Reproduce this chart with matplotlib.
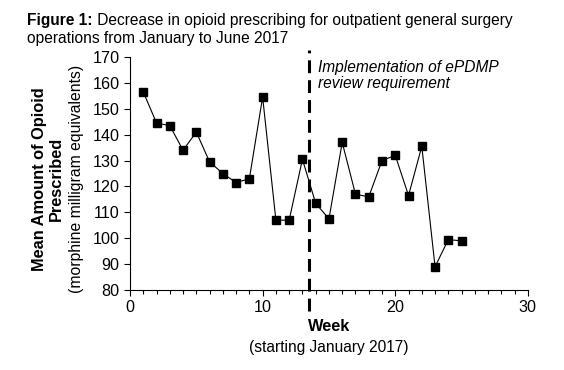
import matplotlib.pyplot as plt

plt.rcParams['font.family'] = ['Liberation Sans', 'DejaVu Sans']

# Datos
semanas = list(range(1, 26))
mme = [156.5, 144.5, 143.5, 134, 141, 129.5, 125, 121.5, 123, 154.5,
       107, 107, 130.5, 113.5, 107.5, 137, 117, 116, 130, 132,
       116.5, 135.5, 89, 99.5, 99]
semana_epdmp = 13.5

fig = plt.figure(figsize=(5.64, 3.70), dpi=100)
ax = fig.add_axes([0.2305, 0.216, 0.7055, 0.63])

ax.plot(semanas, mme, color='black', lw=0.8, marker='s', ms=6.3,
        markerfacecolor='black', markeredgecolor='black')
# Linea discontinua que sobresale un poco de los ejes
ax.axvline(semana_epdmp, ymin=-0.09, ymax=1.03, color='black', lw=2.2,
           ls=(0, (4.2, 2.3)), clip_on=False)

ax.set_xlim(0, 30)
ax.set_ylim(80, 170)
ax.set_xticks(range(0, 31, 10))
ax.set_xticks(range(0, 31), minor=True)
ax.set_yticks(range(80, 171, 10))
ax.tick_params(axis='both', labelsize=11.6, direction='out', length=4, width=0.8)
ax.tick_params(axis='x', which='minor', length=3, width=0.8)
for s in ['top', 'right']:
    ax.spines[s].set_visible(False)

ax.text(14.15, 169, 'Implementation of ePDMP\nreview requirement', style='italic',
        fontsize=11.2, va='top', ha='left', linespacing=1.15)

# Titulo: parte en negrita y parte normal
t1 = fig.text(0.048, 0.965, 'Figure 1:', fontsize=11.2, weight='bold', va='top')
ax.annotate(' Decrease in opioid prescribing for outpatient general surgery',
            xy=(1, 0), xycoords=t1, va='bottom', fontsize=11.2)
fig.text(0.048, 0.915, 'operations from January to June 2017', fontsize=11.2, va='top')

# Etiquetas de ejes
fig.text(0.085, 0.516, 'Mean Amount of Opioid\nPrescribed', rotation=90,
         fontsize=11.8, weight='bold', ha='center', va='center', linespacing=1.2)
fig.text(0.135, 0.516, '(morphine milligram equivalents)', rotation=90,
         fontsize=11.3, ha='center', va='center')
fig.text(0.583, 0.117, 'Week', fontsize=11.8, weight='bold', ha='center', va='center')
fig.text(0.583, 0.062, '(starting January 2017)', fontsize=11.2, ha='center', va='center')

fig.savefig('out.png', dpi=100)
